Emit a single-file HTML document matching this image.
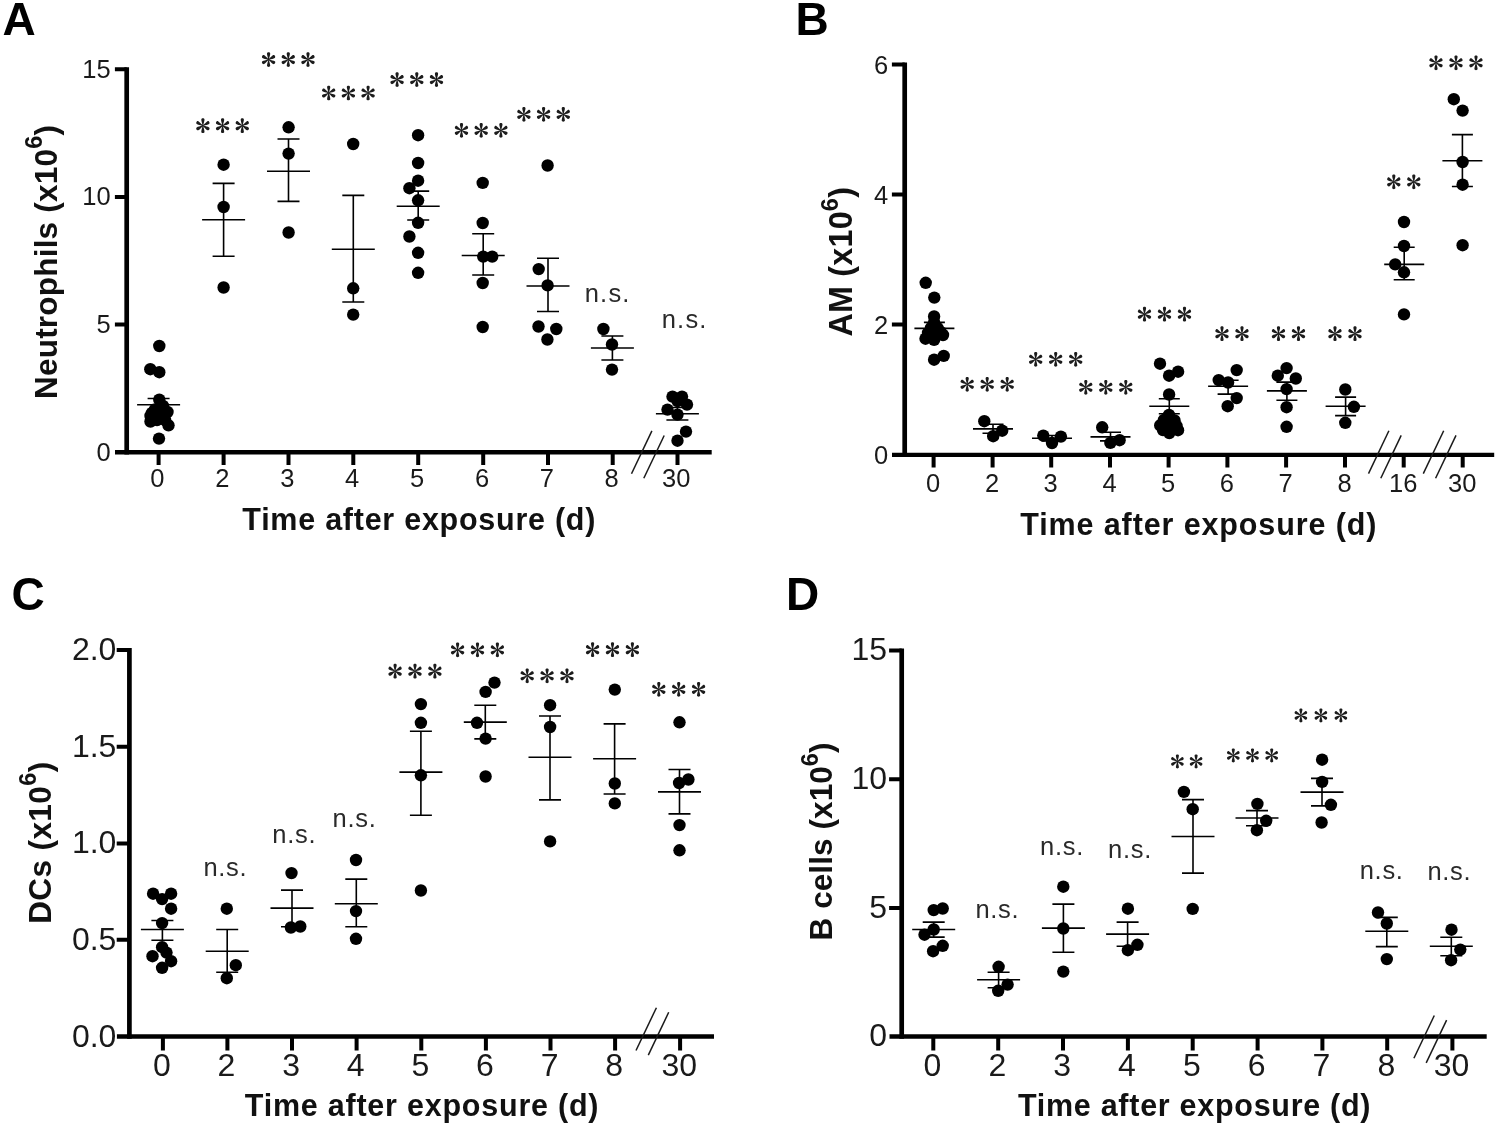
<!DOCTYPE html>
<html><head><meta charset="utf-8"><title>Figure</title>
<style>
html,body{margin:0;padding:0;background:#fff;}
body{width:1498px;height:1126px;overflow:hidden;font-family:"Liberation Sans",sans-serif;}
svg{display:block;font-family:"Liberation Sans",sans-serif;filter:blur(0.45px);}
</style></head><body>
<svg width="1498" height="1126" viewBox="0 0 1498 1126">
<defs>
<g id="ast" fill="#1c1c1c">
<path id="pet" d="M-0.45 -0.6C-0.8 -2.6 -1.65 -4.9 -1.6 -6.2C-1.5 -7.75 1.5 -7.75 1.6 -6.2C1.65 -4.9 0.8 -2.6 0.45 -0.6Z"/>
<use href="#pet" transform="rotate(60)"/><use href="#pet" transform="rotate(120)"/>
<use href="#pet" transform="rotate(180)"/><use href="#pet" transform="rotate(240)"/>
<use href="#pet" transform="rotate(300)"/>
<circle r="1.0"/>
</g>
</defs>
<rect width="1498" height="1126" fill="#fff"/>
<g id="panelA">
<text x="2.6" y="34.9" font-size="46" font-weight="bold" fill="#000">A</text>
<path d="M126.7 67.2V454.5" stroke="#000" stroke-width="4.7" fill="none"/>
<path d="M115 452.2H711.7" stroke="#000" stroke-width="4.6" fill="none"/>
<path d="M114.9 324.6H126.7M114.9 196.9H126.7M114.9 69.2H126.7" stroke="#000" stroke-width="4" fill="none"/>
<text x="110.6" y="460.5" font-size="25.5" text-anchor="end" fill="#1a1a1a">0</text>
<text x="110.6" y="332.9" font-size="25.5" text-anchor="end" fill="#1a1a1a">5</text>
<text x="110.6" y="205.2" font-size="25.5" text-anchor="end" fill="#1a1a1a">10</text>
<text x="110.6" y="77.5" font-size="25.5" text-anchor="end" fill="#1a1a1a">15</text>
<path d="M158.6 452.2V464.9M223.6 452.2V464.9M288.5 452.2V464.9M353.3 452.2V464.9M418.2 452.2V464.9M483.2 452.2V464.9M548.0 452.2V464.9M612.7 452.2V464.9M677.5 452.2V464.9" stroke="#000" stroke-width="4" fill="none"/>
<text x="157.4" y="486.5" font-size="25.5" text-anchor="middle" fill="#1a1a1a">0</text>
<text x="222.4" y="486.5" font-size="25.5" text-anchor="middle" fill="#1a1a1a">2</text>
<text x="287.3" y="486.5" font-size="25.5" text-anchor="middle" fill="#1a1a1a">3</text>
<text x="352.1" y="486.5" font-size="25.5" text-anchor="middle" fill="#1a1a1a">4</text>
<text x="417.0" y="486.5" font-size="25.5" text-anchor="middle" fill="#1a1a1a">5</text>
<text x="482.0" y="486.5" font-size="25.5" text-anchor="middle" fill="#1a1a1a">6</text>
<text x="546.8" y="486.5" font-size="25.5" text-anchor="middle" fill="#1a1a1a">7</text>
<text x="611.5" y="486.5" font-size="25.5" text-anchor="middle" fill="#1a1a1a">8</text>
<text x="676.3" y="486.5" font-size="25.5" text-anchor="middle" fill="#1a1a1a">30</text>
<path d="M631.5 473.7l20.4 -42.8" stroke="#1a1a1a" stroke-width="1.5" fill="none"/>
<path d="M643.8 478.3l20.4 -42.8" stroke="#1a1a1a" stroke-width="1.5" fill="none"/>
<text x="418.85" y="530.2" font-size="30.5" font-weight="bold" text-anchor="middle" textLength="353.1" lengthAdjust="spacing" fill="#111">Time after exposure (d)</text>
<text transform="translate(56.5 262) rotate(-90)" font-size="31.5" font-weight="bold" text-anchor="middle" textLength="274" lengthAdjust="spacing" fill="#111">Neutrophils (x10<tspan dy="-14.2" font-size="23.5">6</tspan><tspan dy="14.2">)</tspan></text>
<path d="M137.1 404.7H180.1M147.6 398.5H169.6M147.6 411.0H169.6M158.6 398.5V411.0" stroke="#000" stroke-width="1.6" fill="none"/>
<path d="M202.1 219.7H245.1M212.6 183.4H234.6M212.6 256.3H234.6M223.6 183.4V256.3" stroke="#000" stroke-width="1.6" fill="none"/>
<path d="M267.0 171.3H310.0M277.5 139.0H299.5M277.5 201.4H299.5M288.5 139.0V201.4" stroke="#000" stroke-width="1.6" fill="none"/>
<path d="M331.8 249.2H374.8M342.3 195.4H364.3M342.3 302.0H364.3M353.3 195.4V302.0" stroke="#000" stroke-width="1.6" fill="none"/>
<path d="M396.7 206.2H439.7M407.2 191.1H429.2M407.2 220.0H429.2M418.2 191.1V220.0" stroke="#000" stroke-width="1.6" fill="none"/>
<path d="M461.7 255.5H504.7M472.2 233.7H494.2M472.2 275.0H494.2M483.2 233.7V275.0" stroke="#000" stroke-width="1.6" fill="none"/>
<path d="M526.5 286.0H569.5M537.0 258.2H559.0M537.0 311.5H559.0M548.0 258.2V311.5" stroke="#000" stroke-width="1.6" fill="none"/>
<path d="M590.9 348.0H633.9M601.4 336.0H623.4M601.4 360.0H623.4M612.4 336.0V360.0" stroke="#000" stroke-width="1.6" fill="none"/>
<path d="M655.9 413.8H698.9M666.4 407.5H688.4M666.4 420.0H688.4M677.4 407.5V420.0" stroke="#000" stroke-width="1.6" fill="none"/>
<g fill="#000">
<circle cx="159.3" cy="346.0" r="6.2"/><circle cx="150.3" cy="369.2" r="6.2"/><circle cx="159.3" cy="372.2" r="6.2"/><circle cx="159.3" cy="399.7" r="6.2"/><circle cx="163.0" cy="406.0" r="6.2"/><circle cx="155.0" cy="409.5" r="6.2"/><circle cx="167.5" cy="412.0" r="6.2"/><circle cx="150.5" cy="416.0" r="6.2"/><circle cx="160.0" cy="417.0" r="6.2"/><circle cx="150.5" cy="421.5" r="6.2"/><circle cx="165.0" cy="420.0" r="6.2"/><circle cx="157.0" cy="420.0" r="6.2"/><circle cx="168.5" cy="425.3" r="6.2"/><circle cx="159.0" cy="438.6" r="6.2"/><circle cx="152.0" cy="413.0" r="6.2"/><circle cx="162.0" cy="412.0" r="6.2"/>
<circle cx="223.6" cy="164.7" r="6.2"/><circle cx="223.6" cy="207.0" r="6.2"/><circle cx="223.6" cy="287.5" r="6.2"/>
<circle cx="288.6" cy="127.3" r="6.2"/><circle cx="288.6" cy="153.6" r="6.2"/><circle cx="288.6" cy="232.5" r="6.2"/>
<circle cx="353.2" cy="144.0" r="6.2"/><circle cx="353.2" cy="288.3" r="6.2"/><circle cx="353.2" cy="314.6" r="6.2"/>
<circle cx="418.1" cy="135.2" r="6.2"/><circle cx="418.1" cy="163.0" r="6.2"/><circle cx="418.1" cy="180.7" r="6.2"/><circle cx="409.4" cy="188.2" r="6.2"/><circle cx="418.1" cy="200.3" r="6.2"/><circle cx="418.1" cy="222.8" r="6.2"/><circle cx="409.4" cy="236.5" r="6.2"/><circle cx="418.1" cy="252.8" r="6.2"/><circle cx="418.1" cy="272.8" r="6.2"/>
<circle cx="482.7" cy="182.9" r="6.2"/><circle cx="482.7" cy="223.0" r="6.2"/><circle cx="483.2" cy="256.6" r="6.2"/><circle cx="492.2" cy="256.6" r="6.2"/><circle cx="482.7" cy="283.0" r="6.2"/><circle cx="482.7" cy="327.0" r="6.2"/>
<circle cx="547.6" cy="165.5" r="6.2"/><circle cx="538.7" cy="269.1" r="6.2"/><circle cx="547.6" cy="285.4" r="6.2"/><circle cx="538.5" cy="326.5" r="6.2"/><circle cx="556.3" cy="329.0" r="6.2"/><circle cx="547.4" cy="339.5" r="6.2"/>
<circle cx="603.4" cy="329.0" r="6.2"/><circle cx="612.0" cy="344.5" r="6.2"/><circle cx="612.0" cy="369.6" r="6.2"/>
<circle cx="672.5" cy="396.6" r="6.2"/><circle cx="682.0" cy="396.6" r="6.2"/><circle cx="687.0" cy="404.6" r="6.2"/><circle cx="667.5" cy="409.6" r="6.2"/><circle cx="677.5" cy="414.6" r="6.2"/><circle cx="686.0" cy="431.6" r="6.2"/><circle cx="677.5" cy="440.7" r="6.2"/><circle cx="677.5" cy="401.0" r="6.2"/>
</g>
<use href="#ast" x="202.9" y="125.7"/><use href="#ast" x="222.6" y="125.7"/><use href="#ast" x="242.3" y="125.7"/>
<use href="#ast" x="268.6" y="59.6"/><use href="#ast" x="288.3" y="59.6"/><use href="#ast" x="308.0" y="59.6"/>
<use href="#ast" x="328.7" y="93.0"/><use href="#ast" x="348.4" y="93.0"/><use href="#ast" x="368.1" y="93.0"/>
<use href="#ast" x="397.1" y="79.6"/><use href="#ast" x="416.8" y="79.6"/><use href="#ast" x="436.5" y="79.6"/>
<use href="#ast" x="461.5" y="130.4"/><use href="#ast" x="481.2" y="130.4"/><use href="#ast" x="500.9" y="130.4"/>
<use href="#ast" x="523.9" y="114.4"/><use href="#ast" x="543.6" y="114.4"/><use href="#ast" x="563.3" y="114.4"/>
<text x="607.7" y="302.0" font-size="25.5" text-anchor="middle" letter-spacing="1.2" fill="#2a2a2a">n.s.</text>
<text x="684.7" y="328.0" font-size="25.5" text-anchor="middle" letter-spacing="1.2" fill="#2a2a2a">n.s.</text>
</g>
<g id="panelB">
<text x="795.6" y="34.9" font-size="46" font-weight="bold" fill="#000">B</text>
<path d="M904.7 62.4V457.0" stroke="#000" stroke-width="4.7" fill="none"/>
<path d="M892 454.9H1494.2" stroke="#000" stroke-width="4.3" fill="none"/>
<path d="M891.9 324.4H904.7M891.9 194.4H904.7M891.9 64.4H904.7" stroke="#000" stroke-width="4" fill="none"/>
<text x="888.1" y="464.0" font-size="25.5" text-anchor="end" fill="#1a1a1a">0</text>
<text x="888.1" y="333.5" font-size="25.5" text-anchor="end" fill="#1a1a1a">2</text>
<text x="888.1" y="203.5" font-size="25.5" text-anchor="end" fill="#1a1a1a">4</text>
<text x="888.1" y="73.5" font-size="25.5" text-anchor="end" fill="#1a1a1a">6</text>
<path d="M933.6 454.9V467.6M992.6 454.9V467.6M1051.2 454.9V467.6M1110.0 454.9V467.6M1168.6 454.9V467.6M1227.4 454.9V467.6M1286.1 454.9V467.6M1345.0 454.9V467.6M1403.7 454.9V467.6M1462.7 454.9V467.6" stroke="#000" stroke-width="4" fill="none"/>
<text x="933.1" y="491.5" font-size="25.5" text-anchor="middle" fill="#1a1a1a">0</text>
<text x="992.1" y="491.5" font-size="25.5" text-anchor="middle" fill="#1a1a1a">2</text>
<text x="1050.7" y="491.5" font-size="25.5" text-anchor="middle" fill="#1a1a1a">3</text>
<text x="1109.5" y="491.5" font-size="25.5" text-anchor="middle" fill="#1a1a1a">4</text>
<text x="1168.1" y="491.5" font-size="25.5" text-anchor="middle" fill="#1a1a1a">5</text>
<text x="1226.9" y="491.5" font-size="25.5" text-anchor="middle" fill="#1a1a1a">6</text>
<text x="1285.6" y="491.5" font-size="25.5" text-anchor="middle" fill="#1a1a1a">7</text>
<text x="1344.5" y="491.5" font-size="25.5" text-anchor="middle" fill="#1a1a1a">8</text>
<text x="1403.2" y="491.5" font-size="25.5" text-anchor="middle" fill="#1a1a1a">16</text>
<text x="1462.2" y="491.5" font-size="25.5" text-anchor="middle" fill="#1a1a1a">30</text>
<path d="M1368.5 473.6l20.4 -42.8" stroke="#1a1a1a" stroke-width="1.5" fill="none"/>
<path d="M1380.8 478.2l20.4 -42.8" stroke="#1a1a1a" stroke-width="1.5" fill="none"/>
<path d="M1423.3 473.6l20.4 -42.8" stroke="#1a1a1a" stroke-width="1.5" fill="none"/>
<path d="M1435.6 478.2l20.4 -42.8" stroke="#1a1a1a" stroke-width="1.5" fill="none"/>
<text x="1198.3" y="534.8" font-size="30.5" font-weight="bold" text-anchor="middle" textLength="356.2" lengthAdjust="spacing" fill="#111">Time after exposure (d)</text>
<text transform="translate(851.8 261.8) rotate(-90)" font-size="32.3" font-weight="bold" text-anchor="middle" textLength="149.5" lengthAdjust="spacing" fill="#111">AM (x10<tspan dy="-14.2" font-size="23.5">6</tspan><tspan dy="14.2">)</tspan></text>
<path d="M914.4 328.4H954.4M923.9 322.4H944.9M923.9 334.0H944.9M934.4 322.4V334.0" stroke="#000" stroke-width="1.6" fill="none"/>
<path d="M973.0 428.9H1013.0M982.5 424.3H1003.5M982.5 433.3H1003.5M993.0 424.3V433.3" stroke="#000" stroke-width="1.6" fill="none"/>
<path d="M1032.0 438.3H1072.0M1041.5 435.5H1062.5M1041.5 441.0H1062.5M1052.0 435.5V441.0" stroke="#000" stroke-width="1.6" fill="none"/>
<path d="M1090.5 436.9H1130.5M1100.0 432.3H1121.0M1100.0 440.9H1121.0M1110.5 432.3V440.9" stroke="#000" stroke-width="1.6" fill="none"/>
<path d="M1149.3 406.2H1189.3M1158.8 398.8H1179.8M1158.8 413.8H1179.8M1169.3 398.8V413.8" stroke="#000" stroke-width="1.6" fill="none"/>
<path d="M1208.1 386.3H1248.1M1217.6 380.3H1238.6M1217.6 394.1H1238.6M1228.1 380.3V394.1" stroke="#000" stroke-width="1.6" fill="none"/>
<path d="M1266.9 390.9H1306.9M1276.4 382.1H1297.4M1276.4 400.2H1297.4M1286.9 382.1V400.2" stroke="#000" stroke-width="1.6" fill="none"/>
<path d="M1325.6 406.2H1365.6M1335.1 397.1H1356.1M1335.1 415.6H1356.1M1345.6 397.1V415.6" stroke="#000" stroke-width="1.6" fill="none"/>
<path d="M1384.2 264.4H1424.2M1393.7 247.3H1414.7M1393.7 279.8H1414.7M1404.2 247.3V279.8" stroke="#000" stroke-width="1.6" fill="none"/>
<path d="M1442.4 160.7H1482.4M1451.9 134.6H1472.9M1451.9 186.5H1472.9M1462.4 134.6V186.5" stroke="#000" stroke-width="1.6" fill="none"/>
<g fill="#000">
<circle cx="925.7" cy="282.8" r="6.2"/><circle cx="934.3" cy="297.6" r="6.2"/><circle cx="934.1" cy="316.4" r="6.2"/><circle cx="934.1" cy="322.5" r="6.2"/><circle cx="931.0" cy="328.0" r="6.2"/><circle cx="937.5" cy="328.0" r="6.2"/><circle cx="928.0" cy="333.0" r="6.2"/><circle cx="940.5" cy="332.0" r="6.2"/><circle cx="925.5" cy="338.7" r="6.2"/><circle cx="934.1" cy="339.8" r="6.2"/><circle cx="943.0" cy="335.0" r="6.2"/><circle cx="934.0" cy="334.0" r="6.2"/><circle cx="934.1" cy="359.7" r="6.2"/><circle cx="943.7" cy="355.9" r="6.2"/>
<circle cx="984.3" cy="421.2" r="6.2"/><circle cx="1002.2" cy="430.7" r="6.2"/><circle cx="993.2" cy="436.2" r="6.2"/>
<circle cx="1043.3" cy="435.6" r="6.2"/><circle cx="1060.9" cy="436.6" r="6.2"/><circle cx="1052.0" cy="443.0" r="6.2"/>
<circle cx="1102.2" cy="427.3" r="6.2"/><circle cx="1119.6" cy="440.2" r="6.2"/><circle cx="1110.4" cy="442.9" r="6.2"/>
<circle cx="1160.0" cy="363.7" r="6.2"/><circle cx="1178.1" cy="371.7" r="6.2"/><circle cx="1169.1" cy="375.7" r="6.2"/><circle cx="1169.1" cy="394.5" r="6.2"/><circle cx="1169.0" cy="415.0" r="6.2"/><circle cx="1164.0" cy="420.0" r="6.2"/><circle cx="1174.5" cy="420.5" r="6.2"/><circle cx="1160.2" cy="425.3" r="6.2"/><circle cx="1176.5" cy="426.0" r="6.2"/><circle cx="1178.0" cy="430.2" r="6.2"/><circle cx="1169.3" cy="433.0" r="6.2"/><circle cx="1163.0" cy="430.0" r="6.2"/><circle cx="1171.0" cy="424.0" r="6.2"/>
<circle cx="1218.7" cy="380.1" r="6.2"/><circle cx="1236.7" cy="370.1" r="6.2"/><circle cx="1228.1" cy="382.5" r="6.2"/><circle cx="1236.7" cy="398.1" r="6.2"/><circle cx="1227.7" cy="406.2" r="6.2"/>
<circle cx="1286.6" cy="368.1" r="6.2"/><circle cx="1277.8" cy="375.7" r="6.2"/><circle cx="1295.8" cy="378.5" r="6.2"/><circle cx="1286.6" cy="389.1" r="6.2"/><circle cx="1286.6" cy="407.2" r="6.2"/><circle cx="1286.6" cy="426.8" r="6.2"/>
<circle cx="1345.3" cy="389.5" r="6.2"/><circle cx="1353.9" cy="406.8" r="6.2"/><circle cx="1345.3" cy="422.8" r="6.2"/>
<circle cx="1404.0" cy="222.0" r="6.2"/><circle cx="1404.0" cy="246.0" r="6.2"/><circle cx="1395.2" cy="264.4" r="6.2"/><circle cx="1404.0" cy="272.3" r="6.2"/><circle cx="1404.0" cy="314.4" r="6.2"/>
<circle cx="1453.8" cy="99.2" r="6.2"/><circle cx="1462.6" cy="110.6" r="6.2"/><circle cx="1462.6" cy="162.0" r="6.2"/><circle cx="1462.6" cy="184.7" r="6.2"/><circle cx="1462.6" cy="245.2" r="6.2"/>
</g>
<use href="#ast" x="967.2" y="384.3"/><use href="#ast" x="987.2" y="384.3"/><use href="#ast" x="1007.2" y="384.3"/>
<use href="#ast" x="1035.7" y="359.3"/><use href="#ast" x="1055.7" y="359.3"/><use href="#ast" x="1075.7" y="359.3"/>
<use href="#ast" x="1085.8" y="387.3"/><use href="#ast" x="1105.8" y="387.3"/><use href="#ast" x="1125.8" y="387.3"/>
<use href="#ast" x="1144.5" y="314.2"/><use href="#ast" x="1164.5" y="314.2"/><use href="#ast" x="1184.5" y="314.2"/>
<use href="#ast" x="1222.0" y="333.7"/><use href="#ast" x="1242.0" y="333.7"/>
<use href="#ast" x="1278.5" y="333.7"/><use href="#ast" x="1298.5" y="333.7"/>
<use href="#ast" x="1335.0" y="333.7"/><use href="#ast" x="1355.0" y="333.7"/>
<use href="#ast" x="1393.8" y="181.9"/><use href="#ast" x="1413.8" y="181.9"/>
<use href="#ast" x="1436.0" y="62.8"/><use href="#ast" x="1456.0" y="62.8"/><use href="#ast" x="1476.0" y="62.8"/>
</g>
<g id="panelC">
<text x="11.4" y="609.8" font-size="46" font-weight="bold" fill="#000">C</text>
<path d="M129.4 648.0V1038.7" stroke="#000" stroke-width="4.7" fill="none"/>
<path d="M116.9 1036.5H714" stroke="#000" stroke-width="4.4" fill="none"/>
<path d="M116.7 939.8H129.4M116.7 843.4H129.4M116.7 746.8H129.4M116.7 650.0H129.4" stroke="#000" stroke-width="4" fill="none"/>
<text x="116.4" y="1046.5" font-size="32" text-anchor="end" fill="#1a1a1a">0.0</text>
<text x="116.4" y="949.8" font-size="32" text-anchor="end" fill="#1a1a1a">0.5</text>
<text x="116.4" y="853.4" font-size="32" text-anchor="end" fill="#1a1a1a">1.0</text>
<text x="116.4" y="756.8" font-size="32" text-anchor="end" fill="#1a1a1a">1.5</text>
<text x="116.4" y="660.0" font-size="32" text-anchor="end" fill="#1a1a1a">2.0</text>
<path d="M162.9 1036.5V1050.5M227.4 1036.5V1050.5M292.0 1036.5V1050.5M356.6 1036.5V1050.5M421.3 1036.5V1050.5M485.9 1036.5V1050.5M550.5 1036.5V1050.5M615.1 1036.5V1050.5M680.1 1036.5V1050.5" stroke="#000" stroke-width="4" fill="none"/>
<text x="162.0" y="1076.2" font-size="32" text-anchor="middle" fill="#1a1a1a">0</text>
<text x="226.5" y="1076.2" font-size="32" text-anchor="middle" fill="#1a1a1a">2</text>
<text x="291.1" y="1076.2" font-size="32" text-anchor="middle" fill="#1a1a1a">3</text>
<text x="355.7" y="1076.2" font-size="32" text-anchor="middle" fill="#1a1a1a">4</text>
<text x="420.4" y="1076.2" font-size="32" text-anchor="middle" fill="#1a1a1a">5</text>
<text x="485.0" y="1076.2" font-size="32" text-anchor="middle" fill="#1a1a1a">6</text>
<text x="549.6" y="1076.2" font-size="32" text-anchor="middle" fill="#1a1a1a">7</text>
<text x="614.2" y="1076.2" font-size="32" text-anchor="middle" fill="#1a1a1a">8</text>
<text x="679.2" y="1076.2" font-size="32" text-anchor="middle" fill="#1a1a1a">30</text>
<path d="M636.0 1050.5l20.4 -42.8" stroke="#1a1a1a" stroke-width="1.5" fill="none"/>
<path d="M648.3 1055.1l20.4 -42.8" stroke="#1a1a1a" stroke-width="1.5" fill="none"/>
<text x="421.65" y="1116" font-size="30.5" font-weight="bold" text-anchor="middle" textLength="353.7" lengthAdjust="spacing" fill="#111">Time after exposure (d)</text>
<text transform="translate(50.6 842.8) rotate(-90)" font-size="31.5" font-weight="bold" text-anchor="middle" textLength="162" lengthAdjust="spacing" fill="#111">DCs (x10<tspan dy="-14.2" font-size="23.5">6</tspan><tspan dy="14.2">)</tspan></text>
<path d="M140.9 929.5H183.9M151.4 920.5H173.4M151.4 940.2H173.4M162.4 920.5V940.2" stroke="#000" stroke-width="1.6" fill="none"/>
<path d="M205.7 951.2H248.7M216.2 929.5H238.2M216.2 972.2H238.2M227.2 929.5V972.2" stroke="#000" stroke-width="1.6" fill="none"/>
<path d="M270.5 908.1H313.5M281.0 890.1H303.0M281.0 926.7H303.0M292.0 890.1V926.7" stroke="#000" stroke-width="1.6" fill="none"/>
<path d="M334.8 903.7H377.8M345.3 879.1H367.3M345.3 926.7H367.3M356.3 879.1V926.7" stroke="#000" stroke-width="1.6" fill="none"/>
<path d="M399.4 772.1H442.4M409.9 731.2H431.9M409.9 815.3H431.9M420.9 731.2V815.3" stroke="#000" stroke-width="1.6" fill="none"/>
<path d="M463.8 722.1H506.8M474.3 705.2H496.3M474.3 738.9H496.3M485.3 705.2V738.9" stroke="#000" stroke-width="1.6" fill="none"/>
<path d="M528.5 757.3H571.5M539.0 716.0H561.0M539.0 799.9H561.0M550.0 716.0V799.9" stroke="#000" stroke-width="1.6" fill="none"/>
<path d="M593.1 758.7H636.1M603.6 723.9H625.6M603.6 794.0H625.6M614.6 723.9V794.0" stroke="#000" stroke-width="1.6" fill="none"/>
<path d="M658.0 791.9H701.0M668.5 769.5H690.5M668.5 813.9H690.5M679.5 769.5V813.9" stroke="#000" stroke-width="1.6" fill="none"/>
<g fill="#000">
<circle cx="153.1" cy="893.7" r="6.2"/><circle cx="171.1" cy="893.7" r="6.2"/><circle cx="162.1" cy="899.1" r="6.2"/><circle cx="171.1" cy="908.7" r="6.2"/><circle cx="162.1" cy="923.1" r="6.2"/><circle cx="162.1" cy="947.2" r="6.2"/><circle cx="152.5" cy="956.2" r="6.2"/><circle cx="166.5" cy="952.6" r="6.2"/><circle cx="171.1" cy="961.2" r="6.2"/><circle cx="162.1" cy="967.8" r="6.2"/>
<circle cx="226.8" cy="908.7" r="6.2"/><circle cx="235.8" cy="965.2" r="6.2"/><circle cx="226.8" cy="978.2" r="6.2"/>
<circle cx="291.5" cy="873.1" r="6.2"/><circle cx="290.9" cy="927.5" r="6.2"/><circle cx="300.3" cy="926.5" r="6.2"/>
<circle cx="356.0" cy="860.0" r="6.2"/><circle cx="356.0" cy="911.1" r="6.2"/><circle cx="356.0" cy="938.8" r="6.2"/>
<circle cx="420.9" cy="704.1" r="6.2"/><circle cx="420.9" cy="722.8" r="6.2"/><circle cx="420.9" cy="775.3" r="6.2"/><circle cx="420.9" cy="890.5" r="6.2"/>
<circle cx="494.5" cy="682.6" r="6.2"/><circle cx="485.6" cy="691.9" r="6.2"/><circle cx="477.0" cy="722.8" r="6.2"/><circle cx="485.6" cy="738.6" r="6.2"/><circle cx="485.6" cy="776.5" r="6.2"/>
<circle cx="550.1" cy="705.2" r="6.2"/><circle cx="550.1" cy="727.0" r="6.2"/><circle cx="550.1" cy="841.4" r="6.2"/>
<circle cx="614.8" cy="689.6" r="6.2"/><circle cx="614.8" cy="783.5" r="6.2"/><circle cx="614.8" cy="803.4" r="6.2"/>
<circle cx="679.5" cy="722.3" r="6.2"/><circle cx="679.1" cy="783.0" r="6.2"/><circle cx="688.4" cy="779.5" r="6.2"/><circle cx="679.5" cy="825.1" r="6.2"/><circle cx="679.5" cy="850.3" r="6.2"/>
</g>
<text x="225.4" y="876.3" font-size="25.5" text-anchor="middle" letter-spacing="0.7" fill="#2a2a2a">n.s.</text>
<text x="294.3" y="842.8" font-size="25.5" text-anchor="middle" letter-spacing="0.7" fill="#2a2a2a">n.s.</text>
<text x="354.5" y="827.1" font-size="25.5" text-anchor="middle" letter-spacing="0.7" fill="#2a2a2a">n.s.</text>
<use href="#ast" x="395.1" y="671.2"/><use href="#ast" x="415.0" y="671.2"/><use href="#ast" x="434.9" y="671.2"/>
<use href="#ast" x="457.6" y="649.9"/><use href="#ast" x="477.5" y="649.9"/><use href="#ast" x="497.4" y="649.9"/>
<use href="#ast" x="527.2" y="675.8"/><use href="#ast" x="547.1" y="675.8"/><use href="#ast" x="567.0" y="675.8"/>
<use href="#ast" x="592.6" y="649.7"/><use href="#ast" x="612.5" y="649.7"/><use href="#ast" x="632.4" y="649.7"/>
<use href="#ast" x="658.8" y="689.4"/><use href="#ast" x="678.7" y="689.4"/><use href="#ast" x="698.6" y="689.4"/>
</g>
<g id="panelD">
<text x="786" y="610" font-size="46" font-weight="bold" fill="#000">D</text>
<path d="M901.7 648.5V1038.7" stroke="#000" stroke-width="4.7" fill="none"/>
<path d="M889.5 1036.5H1486.7" stroke="#000" stroke-width="4.4" fill="none"/>
<path d="M889.1 908.0H901.7M889.1 779.3H901.7M889.1 650.5H901.7" stroke="#000" stroke-width="4" fill="none"/>
<text x="887.1" y="1046.0" font-size="32" text-anchor="end" fill="#1a1a1a">0</text>
<text x="887.1" y="917.5" font-size="32" text-anchor="end" fill="#1a1a1a">5</text>
<text x="887.1" y="788.8" font-size="32" text-anchor="end" fill="#1a1a1a">10</text>
<text x="887.1" y="660.0" font-size="32" text-anchor="end" fill="#1a1a1a">15</text>
<path d="M933.3 1036.5V1050.5M998.2 1036.5V1050.5M1063.0 1036.5V1050.5M1127.9 1036.5V1050.5M1192.7 1036.5V1050.5M1257.6 1036.5V1050.5M1322.4 1036.5V1050.5M1387.2 1036.5V1050.5M1452.4 1036.5V1050.5" stroke="#000" stroke-width="4" fill="none"/>
<text x="932.4" y="1076.2" font-size="32" text-anchor="middle" fill="#1a1a1a">0</text>
<text x="997.3" y="1076.2" font-size="32" text-anchor="middle" fill="#1a1a1a">2</text>
<text x="1062.1" y="1076.2" font-size="32" text-anchor="middle" fill="#1a1a1a">3</text>
<text x="1127.0" y="1076.2" font-size="32" text-anchor="middle" fill="#1a1a1a">4</text>
<text x="1191.8" y="1076.2" font-size="32" text-anchor="middle" fill="#1a1a1a">5</text>
<text x="1256.7" y="1076.2" font-size="32" text-anchor="middle" fill="#1a1a1a">6</text>
<text x="1321.5" y="1076.2" font-size="32" text-anchor="middle" fill="#1a1a1a">7</text>
<text x="1386.3" y="1076.2" font-size="32" text-anchor="middle" fill="#1a1a1a">8</text>
<text x="1451.5" y="1076.2" font-size="32" text-anchor="middle" fill="#1a1a1a">30</text>
<path d="M1413.9 1058.3l20.4 -42.8" stroke="#1a1a1a" stroke-width="1.5" fill="none"/>
<path d="M1426.2 1062.9l20.4 -42.8" stroke="#1a1a1a" stroke-width="1.5" fill="none"/>
<text x="1194.25" y="1116" font-size="30.5" font-weight="bold" text-anchor="middle" textLength="352.5" lengthAdjust="spacing" fill="#111">Time after exposure (d)</text>
<text transform="translate(832 841.5) rotate(-90)" font-size="31.5" font-weight="bold" text-anchor="middle" textLength="198" lengthAdjust="spacing" fill="#111">B cells (x10<tspan dy="-14.2" font-size="23.5">6</tspan><tspan dy="14.2">)</tspan></text>
<path d="M912.2 929.5H955.2M922.7 922.1H944.7M922.7 937.1H944.7M933.7 922.1V937.1" stroke="#000" stroke-width="1.6" fill="none"/>
<path d="M977.1 979.8H1020.1M987.6 972.2H1009.6M987.6 987.8H1009.6M998.6 972.2V987.8" stroke="#000" stroke-width="1.6" fill="none"/>
<path d="M1041.9 928.1H1084.9M1052.4 904.1H1074.4M1052.4 952.2H1074.4M1063.4 904.1V952.2" stroke="#000" stroke-width="1.6" fill="none"/>
<path d="M1106.1 934.1H1149.1M1116.6 922.1H1138.6M1116.6 946.2H1138.6M1127.6 922.1V946.2" stroke="#000" stroke-width="1.6" fill="none"/>
<path d="M1171.5 836.5H1214.5M1182.0 799.6H1204.0M1182.0 873.1H1204.0M1193.0 799.6V873.1" stroke="#000" stroke-width="1.6" fill="none"/>
<path d="M1235.5 818.0H1278.5M1246.0 810.6H1268.0M1246.0 825.7H1268.0M1257.0 810.6V825.7" stroke="#000" stroke-width="1.6" fill="none"/>
<path d="M1300.5 792.1H1343.5M1311.0 778.4H1333.0M1311.0 805.9H1333.0M1322.0 778.4V805.9" stroke="#000" stroke-width="1.6" fill="none"/>
<path d="M1365.3 931.2H1408.3M1375.8 917.4H1397.8M1375.8 946.6H1397.8M1386.8 917.4V946.6" stroke="#000" stroke-width="1.6" fill="none"/>
<path d="M1429.8 946.3H1472.8M1440.3 937.2H1462.3M1440.3 955.7H1462.3M1451.3 937.2V955.7" stroke="#000" stroke-width="1.6" fill="none"/>
<g fill="#000">
<circle cx="933.7" cy="910.1" r="6.2"/><circle cx="942.7" cy="908.5" r="6.2"/><circle cx="933.7" cy="929.5" r="6.2"/><circle cx="924.5" cy="934.7" r="6.2"/><circle cx="942.7" cy="945.8" r="6.2"/><circle cx="933.1" cy="951.2" r="6.2"/>
<circle cx="998.6" cy="966.8" r="6.2"/><circle cx="1007.6" cy="984.6" r="6.2"/><circle cx="998.2" cy="990.8" r="6.2"/>
<circle cx="1063.3" cy="886.7" r="6.2"/><circle cx="1063.3" cy="928.5" r="6.2"/><circle cx="1063.3" cy="971.6" r="6.2"/>
<circle cx="1127.9" cy="908.7" r="6.2"/><circle cx="1137.4" cy="944.8" r="6.2"/><circle cx="1127.9" cy="950.2" r="6.2"/>
<circle cx="1183.9" cy="791.9" r="6.2"/><circle cx="1192.7" cy="809.2" r="6.2"/><circle cx="1192.7" cy="908.9" r="6.2"/>
<circle cx="1257.4" cy="803.9" r="6.2"/><circle cx="1266.2" cy="820.8" r="6.2"/><circle cx="1256.9" cy="830.2" r="6.2"/>
<circle cx="1322.1" cy="759.7" r="6.2"/><circle cx="1322.1" cy="781.9" r="6.2"/><circle cx="1330.9" cy="804.8" r="6.2"/><circle cx="1321.6" cy="822.5" r="6.2"/>
<circle cx="1378.0" cy="912.5" r="6.2"/><circle cx="1386.8" cy="923.5" r="6.2"/><circle cx="1386.8" cy="959.1" r="6.2"/>
<circle cx="1451.5" cy="929.7" r="6.2"/><circle cx="1460.3" cy="949.6" r="6.2"/><circle cx="1451.1" cy="960.2" r="6.2"/>
</g>
<text x="997.4" y="917.7" font-size="25.5" text-anchor="middle" letter-spacing="0.7" fill="#2a2a2a">n.s.</text>
<text x="1062.0" y="855.0" font-size="25.5" text-anchor="middle" letter-spacing="0.7" fill="#2a2a2a">n.s.</text>
<text x="1130.0" y="858.0" font-size="25.5" text-anchor="middle" letter-spacing="0.7" fill="#2a2a2a">n.s.</text>
<use href="#ast" transform="translate(1177.4 761.4) scale(0.95)"/><use href="#ast" transform="translate(1196.1 761.4) scale(0.95)"/>
<use href="#ast" transform="translate(1233.3 755.4) scale(0.95)"/><use href="#ast" transform="translate(1252.5 755.4) scale(0.95)"/><use href="#ast" transform="translate(1271.7 755.4) scale(0.95)"/>
<use href="#ast" transform="translate(1300.9 715.4) scale(0.95)"/><use href="#ast" transform="translate(1320.9 715.4) scale(0.95)"/><use href="#ast" transform="translate(1340.9 715.4) scale(0.95)"/>
<text x="1381.7" y="878.6" font-size="25.5" text-anchor="middle" letter-spacing="0.7" fill="#2a2a2a">n.s.</text>
<text x="1449.4" y="880.0" font-size="25.5" text-anchor="middle" letter-spacing="0.7" fill="#2a2a2a">n.s.</text>
</g>
</svg>
</body></html>
